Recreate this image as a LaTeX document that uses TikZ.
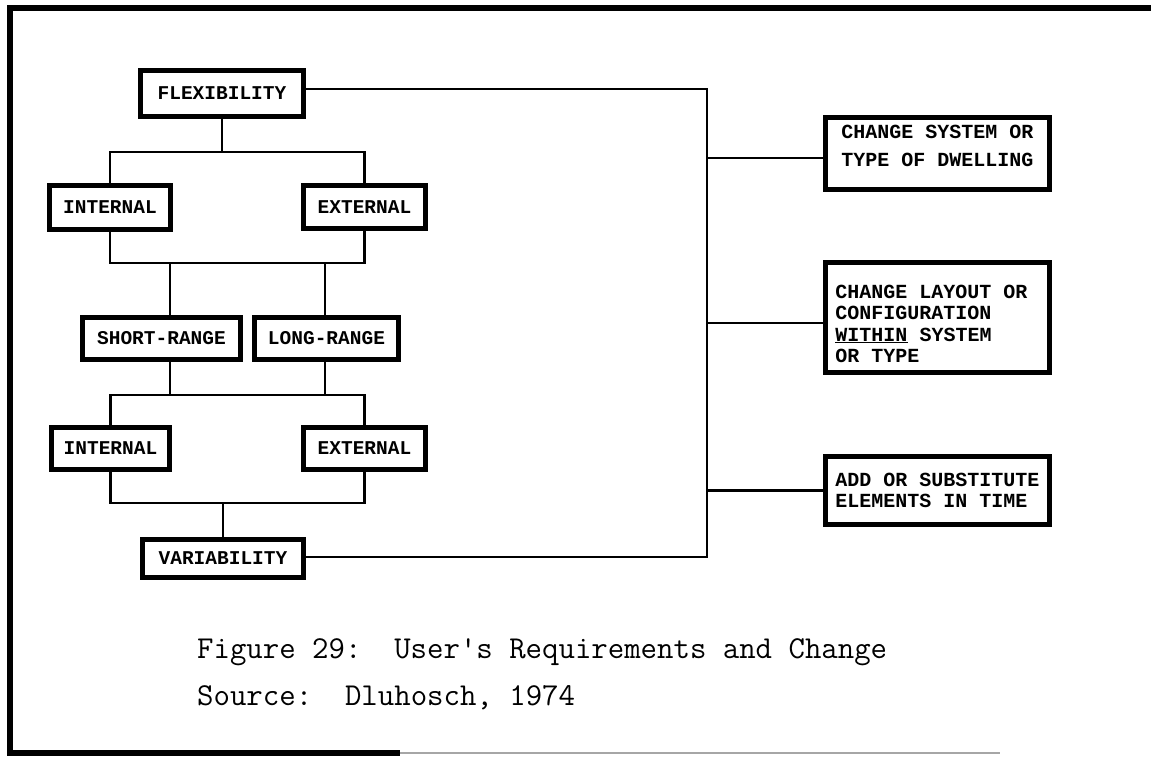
\documentclass[tikz,border=0pt]{standalone}
\usepackage{fontspec}
\newfontfamily\boxfont{Liberation Mono}
\begin{document}
\begin{tikzpicture}[x=1pt,y=-1pt,
  bx/.style={draw, line width=5pt, inner sep=0pt, font=\boxfont\bfseries\fontsize{19.5}{24}\selectfont},
  rbx/.style={draw, line width=5pt, inner sep=0pt, minimum width=224pt, align=left,
     font=\boxfont\bfseries\fontsize{20}{21.5}\selectfont},
  link/.style={line width=2.5pt},
  frameline/.style={line width=6pt},
  captext/.style={anchor=base west, inner sep=0pt, font=\ttfamily\fontsize{31.9}{47}\selectfont}]
\useasboundingbox (0,0) rectangle (1151,756);
% frame
\draw[frameline] (1151,7.5) -- (10,7.5) -- (10,753) -- (400,753);
\draw[line width=2pt, black!35] (400,753) -- (1000,753);
% left column boxes
\node[bx, minimum width=163pt, minimum height=46pt] (flex) at (222,93.5) {FLEXIBILITY};
\node[bx, minimum width=121pt, minimum height=44pt] (int1) at (110,207.5) {INTERNAL};
\node[bx, minimum width=122pt, minimum height=43pt] (ext1) at (364.5,207) {EXTERNAL};
\node[bx, minimum width=158pt, minimum height=42pt] (short) at (161.5,338.5) {SHORT-RANGE};
\node[bx, minimum width=144pt, minimum height=42pt] (long) at (326.5,338.5) {LONG-RANGE};
\node[bx, minimum width=118pt, minimum height=42pt] (int2) at (110.5,448.5) {INTERNAL};
\node[bx, minimum width=122pt, minimum height=42pt] (ext2) at (364.5,448.5) {EXTERNAL};
\node[bx, minimum width=161pt, minimum height=38pt] (var) at (223,558.5) {VARIABILITY};
% right boxes
\node[rbx, minimum height=72pt, font=\boxfont\bfseries\fontsize{20}{28}\selectfont] (r1) at (937.5,153.5)
  {CHANGE SYSTEM OR\\TYPE OF DWELLING\rule[-15pt]{0pt}{15pt}};
\node[rbx, minimum height=110pt] (r2) at (937.5,317.5)
  {\rule{0pt}{26pt}CHANGE LAYOUT OR\\CONFIGURATION\\\underline{WITHIN} SYSTEM\\OR TYPE\hphantom{ SYSTEM OR}};
\node[rbx, minimum height=68pt] (r3) at (937.5,490.5)
  {ADD OR SUBSTITUTE\\ELEMENTS IN TIME};
% junction coordinates
\coordinate (j1) at (222,152);
\coordinate (j2) at (237,263);
\coordinate (j3) at (237,395);
\coordinate (j4) at (223,503);
\coordinate (bt) at (707,89);
\coordinate (bb) at (707,557);
% tree connectors
\draw[link] (flex.south) -- (j1);
\draw[link] (int1.north) |- (j1) -| (ext1.north);
\draw[link] (int1.south) |- (j2) -| (ext1.south);
\draw[link] ([xshift=8.5pt]short.north) -- ([xshift=8.5pt]short.north |- j2);
\draw[link] ([xshift=-1.5pt]long.north) -- ([xshift=-1.5pt]long.north |- j2);
\draw[link] ([xshift=8.5pt]short.south) |- (j3);
\draw[link] ([xshift=-1.5pt]long.south) |- (j3);
\draw[link] (int2.north) |- (j3) -| (ext2.north);
\draw[link] (int2.south) |- (j4) -| (ext2.south);
\draw[link] (j4) -- (var.north);
% bus
\draw[link] ([yshift=4.5pt]flex.east) -- (bt) -- (bb) -- (var.east |- bb);
\draw[link] ([yshift=-4.5pt]r1.west) -- ([yshift=-4.5pt]r1.west -| bt);
\draw[link] ([yshift=-5.5pt]r2.west) -- ([yshift=-5.5pt]r2.west -| bt);
\draw[link] (r3.west) -- (r3.west -| bt);
% caption
\node[captext] (c1) at (197,658) {Figure 29:\ \ User's Requirements and Change};
\node[captext] (c2) at (197,705) {Source:\ \ Dluhosch, 1974};
\end{tikzpicture}
\end{document}
